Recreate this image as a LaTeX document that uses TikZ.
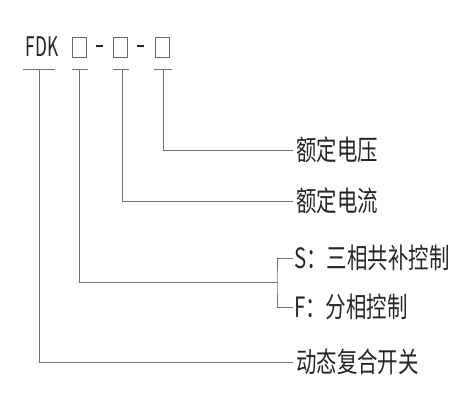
\documentclass[tikz,border=0pt]{standalone}
\usepackage{fontspec}
\newfontfamily\cjk[FakeStretch=0.73]{Noto Sans CJK SC}
\newfontfamily\cjkcode[FakeStretch=0.64]{Noto Sans CJK SC}
\begin{document}
\begin{tikzpicture}[x=1pt, y=-1pt,
    line/.style={draw=black!55, line width=0.9pt},
    code/.style={font=\cjkcode\fontsize{27}{27}\selectfont, text=black!85, inner sep=0pt},
    slot/.style={draw=black!60, line width=0.9pt, minimum width=14pt, minimum height=20pt, inner sep=0pt},
    gap/.style={fill=black!85, minimum width=7pt, minimum height=2pt, inner sep=0pt},
    tag/.style={anchor=west, font=\cjk\fontsize{28}{28}\selectfont, text=black!85, inner sep=3pt}]
    \useasboundingbox (0,0) rectangle (463,400);

    % Model code: FDK [] - [] - []
    \node[code] (fdk) at (42,47) {FDK};
    \node[slot] (s1) at (79,47) {};
    \node[gap] (g1) at (99.5,46) {};
    \node[slot] (s2) at (120,47) {};
    \node[gap] (g2) at (140.5,46) {};
    \node[slot] (s3) at (162,47) {};

    % Underlines
    \draw[line] (23,69) -- (55,69);
    \draw[line] (72,69) -- (88,69);
    \draw[line] (113,69) -- (129,69);
    \draw[line] (154,69) -- (172,69);
    \coordinate (u0) at (39,69);
    \coordinate (u1) at (79,69);
    \coordinate (u2) at (122,69);
    \coordinate (u3) at (163,69);

    % Meanings
    \node[tag] (volt) at (293,150) {额定电压};
    \node[tag] (curr) at (293,201) {额定电流};
    \node[tag, inner sep=1pt] (three) at (293,258) {S：三相共补控制};
    \node[tag, inner sep=1pt] (split) at (293,307) {F：分相控制};
    \node[tag] (switch) at (293,362) {动态复合开关};

    % Leaders
    \coordinate (fork) at (277,282);
    \draw[line] (u3) |- (volt.west);
    \draw[line] (u2) |- (curr.west);
    \draw[line] (u1) |- (fork);
    \draw[line] (three.west) -| (fork) |- (split.west);
    \draw[line] (u0) |- (switch.west);
  \end{tikzpicture}
\end{document}
